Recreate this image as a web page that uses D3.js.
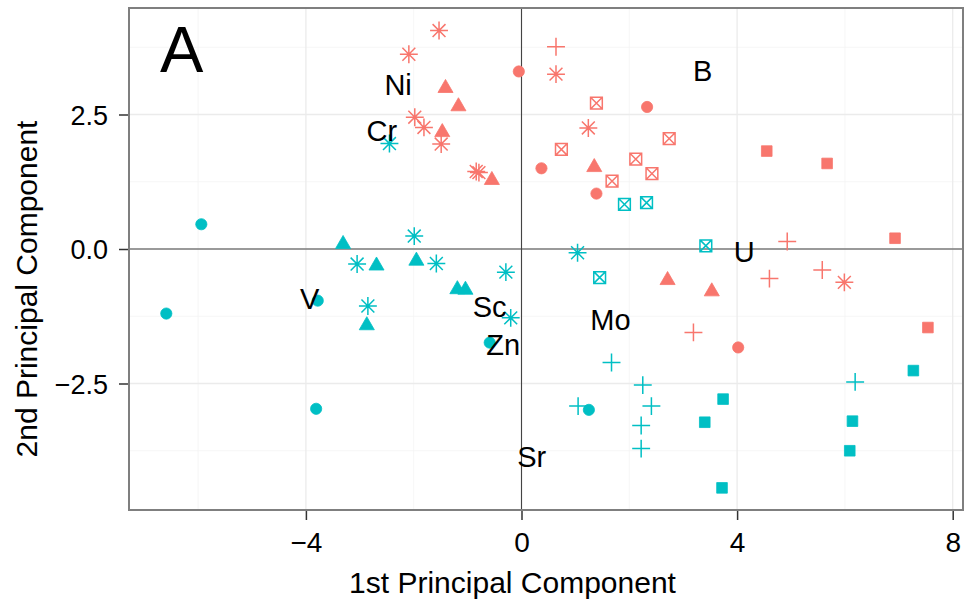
<!DOCTYPE html>
<html><head><meta charset="utf-8">
<script src="https://cdn.jsdelivr.net/npm/d3@7"></script>
<style>body{margin:0;background:#fff} svg{display:block;font-family:"Liberation Sans",Arial,Helvetica,sans-serif}</style>
</head><body><svg id="c" width="966" height="607"></svg>
<script>
// ---- data ----
const groupColors = ["#F8766D", "#00BFC4"];
const xTicks = [-4, 0, 4, 8];
const xMinor = [-6, -2, 2, 6];
const yTicks = [-2.5, 0, 2.5];
const yMinor = [-3.75, -1.25, 1.25, 3.75];

// red group
const redCircle = [[-0.05,3.30],[0.37,1.50],[2.33,2.64],[1.39,1.03],[4.02,-1.83]];
const redTriangle = [[-1.41,2.99],[-1.17,2.65],[-1.47,2.17],[-0.55,1.28],[1.35,1.52],[2.71,-0.58],[3.53,-0.79]];
const redSquare = [[4.55,1.82],[5.67,1.59],[6.93,0.20],[7.54,-1.46]];
const redPlus = [[0.64,3.76],[4.93,0.14],[4.60,-0.55],[5.58,-0.39],[3.19,-1.55]];
const redBoxX = [[1.39,2.71],[2.74,2.05],[0.74,1.85],[2.12,1.67],[2.42,1.40],[1.68,1.26]];
const redAsterisk = [[-1.53,4.06],[-2.09,3.62],[0.64,3.25],[-1.98,2.45],[-1.81,2.26],[1.24,2.25],[-1.49,1.95],[-0.84,1.44],[-0.79,1.42],[5.99,-0.62]];

// cyan group
const cyanCircle = [[-5.94,0.46],[-6.59,-1.20],[-3.78,-0.96],[-3.81,-2.97],[-0.59,-1.74],[1.25,-2.99]];
const cyanTriangle = [[-3.31,0.09],[-2.69,-0.31],[-1.95,-0.22],[-1.19,-0.75],[-1.04,-0.76],[-2.87,-1.42]];
const cyanSquare = [[7.27,-2.26],[3.74,-2.79],[3.40,-3.22],[6.14,-3.20],[6.09,-3.75],[3.72,-4.44]];
const cyanPlus = [[1.67,-2.11],[6.19,-2.47],[2.25,-2.53],[1.05,-2.92],[2.41,-2.92],[2.22,-3.28],[2.22,-3.71]];
const cyanBoxX = [[1.91,0.83],[2.32,0.86],[3.42,0.06],[1.45,-0.53]];
const cyanAsterisk = [[-2.45,1.96],[-1.99,0.24],[-3.05,-0.28],[-1.58,-0.27],[-0.29,-0.43],[-0.20,-1.28],[-2.85,-1.06],[1.04,-0.07]];

// loading labels
const loadName = ["Ni","Cr","B","U","Mo","Sr","Sc","Zn","V"];
const loadPC1 = [-2.29,-2.59,3.36,4.13,1.65,0.19,-0.59,-0.34,-3.93];
const loadPC2 = [3.05,2.19,3.30,-0.06,-1.32,-3.86,-1.07,-1.78,-0.93];

// ---- layout ----
const svg = d3.select("#c");
const L = 129, Rr = 963, T = 8, B = 510;
const x = d3.scaleLinear().domain([-7.282, 8.191]).range([L, Rr]);
const y = d3.scaleLinear().domain([-4.8513, 4.4796]).range([B, T]);

const g = svg.append("g");
// minor grid
g.selectAll(".vmin").data(xMinor).join("line").attr("x1", d=>x(d)).attr("x2", d=>x(d)).attr("y1", T).attr("y2", B).attr("stroke", "#f4f4f4").attr("stroke-width", 0.8);
g.selectAll(".hmin").data(yMinor).join("line").attr("y1", d=>y(d)).attr("y2", d=>y(d)).attr("x1", L).attr("x2", Rr).attr("stroke", "#f4f4f4").attr("stroke-width", 0.8);
// major grid
g.selectAll(".vmaj").data(xTicks).join("line").attr("x1", d=>x(d)).attr("x2", d=>x(d)).attr("y1", T).attr("y2", B).attr("stroke", "#ebebeb").attr("stroke-width", 1.3);
g.selectAll(".hmaj").data(yTicks).join("line").attr("y1", d=>y(d)).attr("y2", d=>y(d)).attr("x1", L).attr("x2", Rr).attr("stroke", "#ebebeb").attr("stroke-width", 1.3);
// zero lines
g.append("line").attr("x1", x(0)).attr("x2", x(0)).attr("y1", T).attr("y2", B).attr("stroke", "#444").attr("stroke-width", 1.1);
g.append("line").attr("y1", y(0)).attr("y2", y(0)).attr("x1", L).attr("x2", Rr).attr("stroke", "#444").attr("stroke-width", 1.1);

// ---- shapes ----
const Rs = 5.6;
const shapePath = {
  circle: () => d3.path(),
};
function pathFor(shape) {
  const p = d3.path();
  if (shape === "circle") { p.arc(0, 0, Rs, 0, 2*Math.PI); }
  else if (shape === "square") { const h = 0.95*Rs; p.rect(-h, -h, 2*h, 2*h); }
  else if (shape === "triangle") {
    p.moveTo(0, -1.555*Rs); p.lineTo(1.347*Rs, 0.778*Rs); p.lineTo(-1.347*Rs, 0.778*Rs); p.closePath();
  }
  else if (shape === "plus") { const h = 1.6*Rs; p.moveTo(-h,0); p.lineTo(h,0); p.moveTo(0,-h); p.lineTo(0,h); }
  else if (shape === "boxX") { const h = 1.05*Rs; p.rect(-h,-h,2*h,2*h); p.moveTo(-h,-h); p.lineTo(h,h); p.moveTo(-h,h); p.lineTo(h,-h); }
  else if (shape === "asterisk") { const h = 1.15*Rs, k = 1.6*Rs; p.moveTo(-h,-h); p.lineTo(h,h); p.moveTo(-h,h); p.lineTo(h,-h); p.moveTo(-k,0); p.lineTo(k,0); p.moveTo(0,-k); p.lineTo(0,k); }
  return p.toString();
}
const filled = {circle: true, square: true, triangle: true, plus: false, boxX: false, asterisk: false};
const sets = [
  [redCircle, "circle", 0], [redTriangle, "triangle", 0], [redSquare, "square", 0], [redPlus, "plus", 0], [redBoxX, "boxX", 0], [redAsterisk, "asterisk", 0],
  [cyanCircle, "circle", 1], [cyanTriangle, "triangle", 1], [cyanSquare, "square", 1], [cyanPlus, "plus", 1], [cyanBoxX, "boxX", 1], [cyanAsterisk, "asterisk", 1]
];
const pts = svg.append("g");
sets.forEach(([arr, shape, gi]) => {
  const col = groupColors[gi];
  pts.append("g").selectAll("path").data(arr).join("path")
    .attr("d", pathFor(shape))
    .attr("transform", d => `translate(${x(d[0])},${y(d[1])})`)
    .attr("fill", filled[shape] ? col : "none")
    .attr("stroke", col)
    .attr("stroke-width", filled[shape] ? 0.8 : 1.5);
});

// labels
svg.append("g").selectAll("text").data(loadName).join("text")
  .attr("x", (d,i) => x(loadPC1[i])).attr("y", (d,i) => y(loadPC2[i]))
  .attr("text-anchor", "middle").attr("dominant-baseline", "central")
  .attr("font-size", 29).attr("fill", "#000").text(d => d);

// panel border
svg.append("rect").attr("x", L).attr("y", T).attr("width", Rr-L).attr("height", B-T)
  .attr("fill", "none").attr("stroke", "#7f7f7f").attr("stroke-width", 2);

// axes
const xa = svg.append("g").attr("transform", `translate(0,${B+1})`)
  .call(d3.axisBottom(x).tickValues(xTicks).tickSize(9).tickFormat(d3.format("d")));
xa.select(".domain").remove();
xa.selectAll(".tick line").attr("stroke", "#333").attr("stroke-width", 1.5);
xa.selectAll(".tick text").attr("y", 41).attr("dy", null).attr("font-size", 28).attr("fill", "#000").attr("font-family", "Liberation Sans, Arial, sans-serif");

const ya = svg.append("g").attr("transform", `translate(${L-1},0)`)
  .call(d3.axisLeft(y).tickValues(yTicks).tickSize(9).tickFormat(d3.format(".1f")));
ya.select(".domain").remove();
ya.selectAll(".tick line").attr("stroke", "#333").attr("stroke-width", 1.5);
ya.selectAll(".tick text").attr("x", -20).attr("dy", "0.36em").attr("font-size", 27).attr("fill", "#000").attr("font-family", "Liberation Sans, Arial, sans-serif");

// titles
svg.append("text").attr("x", 512.5).attr("y", 593).attr("text-anchor", "middle").attr("font-size", 30).attr("fill", "#000").text("1st Principal Component");
svg.append("text").attr("transform", "translate(37,289) rotate(-90)").attr("text-anchor", "middle").attr("font-size", 30).attr("fill", "#000").text("2nd Principal Component");
svg.append("text").attr("x", 160).attr("y", 72).attr("font-size", 65).attr("fill", "#000").text("A");
</script></body></html>
